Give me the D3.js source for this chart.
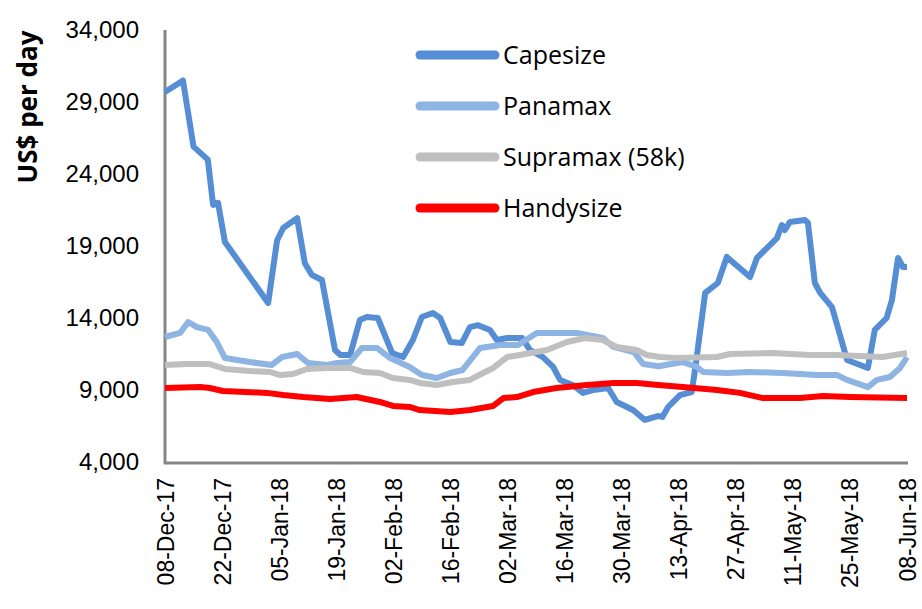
<!DOCTYPE html>
<html>
<head>
<meta charset="utf-8">
<script src="https://cdn.jsdelivr.net/npm/d3@7"></script>
<style>
  body { margin: 0; background: #fff; }
  svg { font-family: "Open Sans", Lato, sans-serif; }
</style>
</head>
<body>
<div id="chart"></div>
<script>
// day offsets from 08-Dec-17 and US$/day values
const capeDays = [0, 4.4, 7, 10.5, 11.8, 13, 14.7, 25.3, 27.5, 29, 32.4, 34.3, 36, 38.5, 41.7, 43, 45.4, 47.8, 49.5, 52.2, 55.7, 58.4, 60.8, 63, 65.7, 67.5, 70, 72.8, 74.8, 76.8, 79.7, 81.4, 83.9, 87.6, 89.5, 92.7, 95.2, 96.9, 100, 102.5, 105, 108.7, 110.8, 114.8, 117.7, 120.9, 122, 123.4, 126.3, 129.2, 130, 132.5, 135.6, 137.8, 143.5, 145.2, 150.1, 151.3, 152, 153.3, 157, 157.7, 159.4, 160.7, 163.6, 165, 167.3, 172.4, 174.1, 177, 178.3, 179.8, 181, 182];
const capeVals = [29700, 30500, 25900, 25000, 21850, 22000, 19280, 15040, 19400, 20250, 20940, 17800, 17000, 16640, 11780, 11430, 11430, 13860, 14070, 14000, 11570, 11290, 12470, 14070, 14350, 14000, 12330, 12260, 13370, 13500, 13170, 12470, 12610, 12610, 11780, 11290, 10600, 9700, 9350, 8800, 9000, 9140, 8170, 7610, 6920, 7190, 7130, 7820, 8650, 8860, 10390, 15740, 16430, 18240, 16850, 18170, 19550, 20460, 20100, 20670, 20800, 20600, 16430, 15740, 14760, 13375, 11080, 10530, 13170, 14000, 15250, 18170, 17540, 17540];

const panaDays = [0, 3.7, 5.7, 7.8, 10.6, 12.7, 14.7, 20.8, 26.2, 28.7, 32.4, 35.1, 39.7, 42.2, 45.4, 48.3, 52, 55.2, 60, 63, 66.7, 70, 73, 77.3, 82.2, 86.6, 91.2, 101, 107.4, 110, 115, 117.3, 121, 127, 130.5, 132, 137.8, 143.5, 151.6, 159.9, 164.8, 167.3, 172.4, 174.6, 177.8, 180.3, 182];
const panaVals = [12680, 12960, 13720, 13370, 13170, 12330, 11220, 10940, 10740, 11290, 11500, 10875, 10740, 10875, 10940, 11920, 11920, 11220, 10600, 10040, 9830, 10180, 10390, 11920, 12125, 12125, 12960, 12960, 12610, 11990, 11640, 10800, 10650, 10940, 10600, 10250, 10180, 10250, 10180, 10040, 10040, 9700, 9200, 9700, 9900, 10530, 11290];

const supraDays = [0, 5.4, 11, 14.7, 20.8, 25.8, 28.2, 31.4, 34.8, 39.7, 45.4, 48.6, 52.7, 55.9, 60, 62.5, 66.7, 70.6, 74.8, 78, 80.5, 83.9, 87, 93.7, 98.6, 103, 107.4, 110.8, 115.7, 118.2, 121.4, 125.6, 135.4, 138.6, 149, 158.2, 164.8, 176, 182];
const supraVals = [10740, 10800, 10800, 10460, 10320, 10250, 10040, 10110, 10460, 10530, 10530, 10250, 10180, 9830, 9700, 9490, 9350, 9560, 9700, 10180, 10530, 11290, 11430, 11780, 12330, 12610, 12470, 11990, 11780, 11430, 11290, 11220, 11290, 11500, 11570, 11430, 11430, 11290, 11570];

const handyDays = [0, 8.6, 11, 14.2, 25, 29, 33.9, 40.5, 47, 52.7, 55.9, 60, 62.5, 70, 74.8, 80.5, 83, 86.3, 90.3, 96, 103.5, 110, 115.7, 121, 127, 135.4, 141, 146.7, 155.7, 161.4, 168, 182];
const handyVals = [9140, 9210, 9140, 8930, 8800, 8650, 8510, 8370, 8510, 8170, 7890, 7820, 7610, 7470, 7610, 7890, 8440, 8510, 8860, 9140, 9350, 9490, 9490, 9350, 9210, 9000, 8800, 8440, 8440, 8580, 8510, 8440];

const seriesNames = ["Capesize", "Panamax", "Supramax (58k)", "Handysize"];
const seriesColors = ["#558ED5", "#8DB4E2", "#BFBFBF", "#FF0000"];
const yTicks = [4000, 9000, 14000, 19000, 24000, 29000, 34000];
const startDate = new Date(2017, 11, 8);
const xTicks = d3.range(0, 183, 14).map(d => d3.timeDay.offset(startDate, d));

const width = 922, height = 609;
const plotLeft = 165, plotRight = 907, plotTop = 30, plotBottom = 462;

const svg = d3.select('#chart').append('svg')
    .attr('width', width)
    .attr('height', height);

const x = d3.scaleTime()
    .domain([startDate, d3.timeDay.offset(startDate, 182)])
    .range([plotLeft, plotRight]);
const y = d3.scaleLinear()
    .domain([4000, 34000])
    .range([plotBottom, plotTop]);

// y axis
const yAxis = svg.append('g')
    .attr('transform', `translate(${plotLeft},0)`)
    .call(d3.axisLeft(y).tickValues(yTicks).tickSize(0).tickPadding(26).tickFormat(d3.format(',')));
yAxis.select('.domain').remove();
yAxis.selectAll('text').style('font-size', '24px').style('fill', '#000');

// x axis
const xAxis = svg.append('g')
    .attr('transform', `translate(0,${plotBottom})`)
    .call(d3.axisBottom(x).tickValues(xTicks).tickSize(0).tickFormat(d3.timeFormat('%d-%b-%y')));
xAxis.select('.domain').remove();
xAxis.selectAll('text')
    .style('font-size', '23px')
    .style('fill', '#000')
    .attr('text-anchor', 'end')
    .attr('transform', 'rotate(-90)')
    .attr('x', -16)
    .attr('y', 0)
    .attr('dy', '0.35em');

// axis lines
svg.append('path')
    .attr('d', `M${plotLeft},${plotTop}V${plotBottom + 1}H${plotRight + 1}`)
    .attr('fill', 'none')
    .attr('stroke', '#868686')
    .attr('stroke-width', 3);

// y title
svg.append('text')
    .attr('transform', `translate(37,107) rotate(-90)`)
    .attr('text-anchor', 'middle')
    .style('font-size', '26px')
    .style('font-weight', 'bold')
    .text('US$ per day');

const seriesData = [
    [capeDays, capeVals],
    [panaDays, panaVals],
    [supraDays, supraVals],
    [handyDays, handyVals]
].map(([days, vals]) => days.map((d, i) => ({ date: new Date(startDate.getTime() + d * 864e5), value: vals[i] })));

const line = d3.line()
    .x(d => x(d.date))
    .y(d => y(d.value));

svg.selectAll('.series')
    .data(seriesData)
    .enter().append('path')
    .attr('class', 'series')
    .attr('d', line)
    .attr('fill', 'none')
    .attr('stroke', (d, i) => seriesColors[i])
    .attr('stroke-width', 6)
    .attr('stroke-linejoin', 'round');

// legend
const legend = svg.selectAll('.legend')
    .data(seriesNames)
    .enter().append('g')
    .attr('class', 'legend')
    .attr('transform', (d, i) => `translate(420,${55 + i * 51})`);
legend.append('line')
    .attr('x1', 0).attr('x2', 75)
    .attr('stroke', (d, i) => seriesColors[i])
    .attr('stroke-width', 9)
    .attr('stroke-linecap', 'round');
legend.append('text')
    .attr('x', 83)
    .attr('dy', '0.35em')
    .style('font-size', '25px')
    .text(d => d);
</script>
</body>
</html>
